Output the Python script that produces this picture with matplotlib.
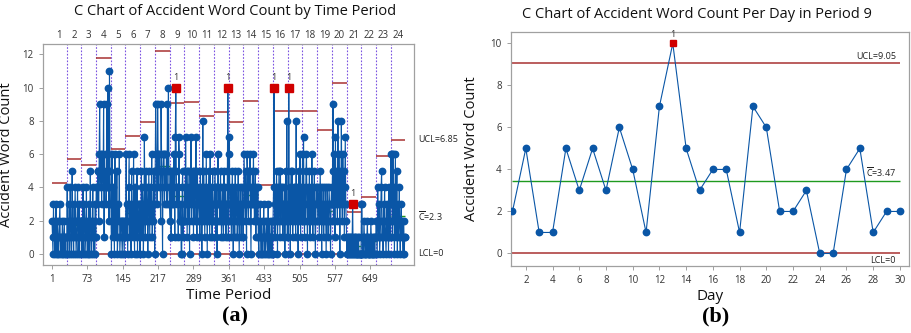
import matplotlib
matplotlib.use('Agg')
import matplotlib.pyplot as plt
import matplotlib.transforms as mtransforms
import numpy as np

plt.rcParams['font.family'] = ['Open Sans', 'DejaVu Sans']
plt.rcParams['mathtext.fontset'] = 'custom'
plt.rcParams['mathtext.rm'] = 'Open Sans'

# ---- data: daily accident word counts, 24 periods x 30 days ----
p01 = [2,1,0,3,1,2,0,1,3,1, 0,2,1,0,1,2,3,0,1,1, 0,2,1,0,1,2,0,1,0,1]
p02 = [1,4,0,2,1,3,0,4,2,1, 0,5,1,2,0,3,1,4,2,0, 1,2,4,0,1,3,0,2,1,2]
p03 = [2,0,1,4,1,0,3,2,1,0, 4,1,2,0,1,3,0,2,5,1, 0,2,1,4,0,1,2,0,3,1]
p04 = [4,4,3,5,5,2,6,9,4,5, 6,3,6,5,4,9,1,6,4,5, 3,4,9,4,10,4,2,11,5,3]
p05 = [3,0,6,2,1,4,2,0,6,3, 1,2,5,0,1,3,2,6,0,1, 2,2,1,0,2,2,1,0,2,1]
p06 = [2,6,1,3,0,2,4,6,1,3, 2,0,5,2,3,1,6,2,0,4, 3,1,2,5,0,3,2,1,3,0]
p07 = [3,2,5,1,4,3,0,2,7,3, 1,5,2,4,3,0,2,5,3,1, 4,2,3,6,1,3,2,5,4,0]
p08 = [5,9,6,6,3,9,6,4,6,5, 5,2,9,6,4,0,5,6,6,3, 5,5,4,6,3,9,5,10,4,3]
p09 = [2,5,1,1,5,3,5,3,6,4, 1,7,10,5,3,4,4,1,7,6, 2,2,3,0,0,4,5,1,2,2]
p10 = [4,2,7,3,5,1,3,5,2,4, 0,5,3,7,2,4,3,5,1,5, 3,2,4,7,3,1,5,2,3,4]
p11 = [3,1,5,2,4,0,3,8,2,5, 3,1,4,2,6,3,0,4,2,5, 3,1,6,2,4,3,1,5,2,2]
p12 = [3,4,5,1,4,3,0,2,6,3, 3,4,2,5,3,1,2,4,3,1, 5,2,3,4,1,3,2,5,10,1]
p13 = [6,7,3,2,4,1,3,5,2,0, 4,3,1,5,2,3,4,1,2,5, 3,0,2,4,3,1,2,4,3,1]
p14 = [3,6,4,2,5,3,0,6,5,3, 2,5,4,6,3,0,4,3,5,3, 6,4,2,3,5,1,4,3,2,4]
p15 = [1,0,2,1,3,0,1,2,0,1, 1,3,0,2,1,0,1,2,1,0, 3,1,0,2,1,1,0,2,0,0]
p16 = [2,4,10,3,1,4,2,5,3,0, 4,2,5,3,1,5,2,4,3,4, 1,3,2,4,0,3,5,2,8,1]
p17 = [3,1,10,2,4,0,3,5,2,5, 1,3,4,2,4,3,1,8,2,4, 3,0,5,2,3,6,1,4,2,3]
p18 = [6,2,7,3,1,4,2,5,6,3, 0,4,2,3,5,1,3,4,2,6, 3,1,4,2,5,3,0,2,4,3]
p19 = [4,2,3,4,1,3,5,2,4,0, 3,2,4,1,3,2,4,3,0,2, 4,3,1,2,4,3,2,0,3,4]
p20 = [3,5,9,2,6,4,1,7,3,5, 4,2,8,3,6,4,0,5,3,8, 4,2,6,3,5,1,4,7,3,2]
p21 = [0,1,0,1,1,0,0,1,0,1, 0,1,3,0,1,0,0,1,0,1, 0,0,1,0,1,0,0,0,0,0]
p22 = [3,3,0,1,0,2,1,0,0,1, 0,1,2,0,1,0,0,1,0,2, 1,0,0,1,0,0,1,0,1,1]
p23 = [2,1,0,4,2,1,3,0,1,2, 4,5,1,2,0,3,1,4,2,1, 0,2,3,1,2,0,4,1,2,1]
p24 = [6,3,6,1,6,2,4,0,3,6, 1,2,5,0,3,1,2,4,1,0, 2,3,1,2,0,1,2,0,1,1]
periods = [p01,p02,p03,p04,p05,p06,p07,p08,p09,p10,p11,p12,
           p13,p14,p15,p16,p17,p18,p19,p20,p21,p22,p23,p24]
period_labels = [str(i) for i in range(1, 25)]
xtick_left = [1, 73, 145, 217, 289, 361, 433, 505, 577, 649]

days = list(range(1, 31))
day_counts = p09
xtick_right = list(range(2, 31, 2))

BLUE = '#0a56a6'
UCLC = '#a83232'
GREEN = '#1f9a1f'
PURPLE = '#7b52e0'
RED = '#d00000'
SPINE = '#a0a0a0'

fig = plt.figure(figsize=(9.12, 3.33), dpi=100)

def style_axes(ax):
    for s in ax.spines.values():
        s.set_color(SPINE)
        s.set_linewidth(0.9)
    ax.tick_params(axis='both', colors='#333333', labelsize=7, length=3,
                   width=0.7, direction='out')
    ax.tick_params(axis='both', which='both', color=SPINE)

# ---------------- left chart ----------------
axL = fig.add_axes([0.0468, 0.204, 0.4072, 0.664])
n_per = len(p01)
vals = np.concatenate([np.array(p, dtype=float) for p in periods])
x = np.arange(1, len(vals) + 1)
cbars = [np.mean(p) for p in periods]
ucls = [c + 3 * np.sqrt(c) for c in cbars]

axL.plot(x, vals, '-', color=BLUE, lw=0.8, zorder=3)
ucl_per_point = np.repeat(ucls, n_per)
ooc = vals > ucl_per_point
axL.plot(x[~ooc], vals[~ooc], 'o', color=BLUE, ms=4.6, zorder=4)
axL.plot(x[ooc], vals[ooc], 's', color=RED, ms=5.2, zorder=5)
for xi, yi in zip(x[ooc], vals[ooc]):
    axL.text(xi, yi + 0.35, '1', ha='center', va='bottom', fontsize=6.5,
             color='#333333', zorder=6)

for k, (c, u) in enumerate(zip(cbars, ucls)):
    x0 = k * n_per + 0.5
    x1 = x0 + n_per
    axL.hlines(u, x0, x1, color=UCLC, lw=1.1, zorder=2)
    axL.hlines(c, x0, x1, color=GREEN, lw=1.0, zorder=2)
    if k > 0:
        axL.axvline(x0, color=PURPLE, lw=0.8, ls=(0, (1.5, 1.5)), zorder=1)
axL.hlines(0, 0.5, len(vals) + 0.5, color=UCLC, lw=1.1, zorder=2)

axL.set_xlim(-18, 738)
axL.set_ylim(-0.68, 12.63)
axL.set_xticks(xtick_left)
axL.set_yticks(range(0, 13, 2))
style_axes(axL)
axL.set_title('C Chart of Accident Word Count by Time Period', fontsize=10.5,
              pad=21, color='#111111', fontweight='medium', x=0.517)
axL.set_ylabel('Accident Word Count', fontsize=10.5, color='#111111', labelpad=6)
axL.set_xlabel('Time Period', fontsize=11, color='#111111', labelpad=2)

centers = [k * n_per + n_per / 2 + 0.5 for k in range(len(periods))]
sec = axL.secondary_xaxis('top')
sec.set_xticks(centers)
sec.set_xticklabels(period_labels)
sec.tick_params(length=0, labelsize=7, colors='#333333', pad=2)
sec.spines['top'].set_visible(False)

trL = mtransforms.blended_transform_factory(axL.transAxes, axL.transData)
axL.text(1.01, ucls[-1], 'UCL=%.2f' % ucls[-1], transform=trL, va='center', ha='left', fontsize=6.5, color='#222222')
axL.text(1.01, cbars[-1], r'$\overline{\mathrm{C}}$=%.1f' % cbars[-1], transform=trL, va='center', ha='left', fontsize=6.5, color='#222222')
axL.text(1.01, 0, 'LCL=0', transform=trL, va='center', ha='left', fontsize=6.5, color='#222222')

fig.text(0.258, 0.035, '(a)', fontsize=16, fontweight='bold', family='Liberation Serif', ha='center')

# ---------------- right chart ----------------
axR = fig.add_axes([0.560, 0.201, 0.437, 0.704])
dv = np.array(day_counts, dtype=float)
dx = np.array(days)
cb = dv.mean()
ucl = cb + 3 * np.sqrt(cb)
axR.plot(dx, dv, '-', color=BLUE, lw=0.8, zorder=3)
oocR = dv > ucl
axR.plot(dx[~oocR], dv[~oocR], 'o', color=BLUE, ms=4.6, zorder=4)
axR.plot(dx[oocR], dv[oocR], 's', color=RED, ms=4.6, zorder=5)
for xi, yi in zip(dx[oocR], dv[oocR]):
    axR.text(xi, yi + 0.2, '1', ha='center', va='bottom', fontsize=6.5,
             color='#333333', zorder=6, clip_on=False)
axR.hlines(ucl, 1, 30, color=UCLC, lw=1.1, zorder=2)
axR.hlines(cb, 1, 30, color=GREEN, lw=1.0, zorder=2)
axR.hlines(0, 1, 30, color=UCLC, lw=1.1, zorder=2)
axR.text(29.7, ucl + 0.1, 'UCL=%.2f' % ucl, ha='right', va='bottom', fontsize=6.5, color='#222222')
axR.text(29.7, cb + 0.1, r'$\overline{\mathrm{C}}$=%.2f' % cb, ha='right', va='bottom', fontsize=6.5, color='#222222')
axR.text(29.7, -0.1, 'LCL=0', ha='right', va='top', fontsize=6.5, color='#222222')
axR.set_xlim(0.87, 30.7)
axR.set_ylim(-0.6, 10.56)
axR.set_xticks(xtick_right)
axR.set_yticks(range(0, 11, 2))
style_axes(axR)
axR.set_title('C Chart of Accident Word Count Per Day in Period 9', fontsize=10.5,
              pad=10, color='#111111', fontweight='medium', x=0.466)
axR.set_ylabel('Accident Word Count', fontsize=10.5, color='#111111', labelpad=8)
axR.set_xlabel('Day', fontsize=11, color='#111111', labelpad=2)

fig.text(0.785, 0.035, '(b)', fontsize=16, fontweight='bold', family='Liberation Serif', ha='center')

fig.savefig('out.png', dpi=100)
